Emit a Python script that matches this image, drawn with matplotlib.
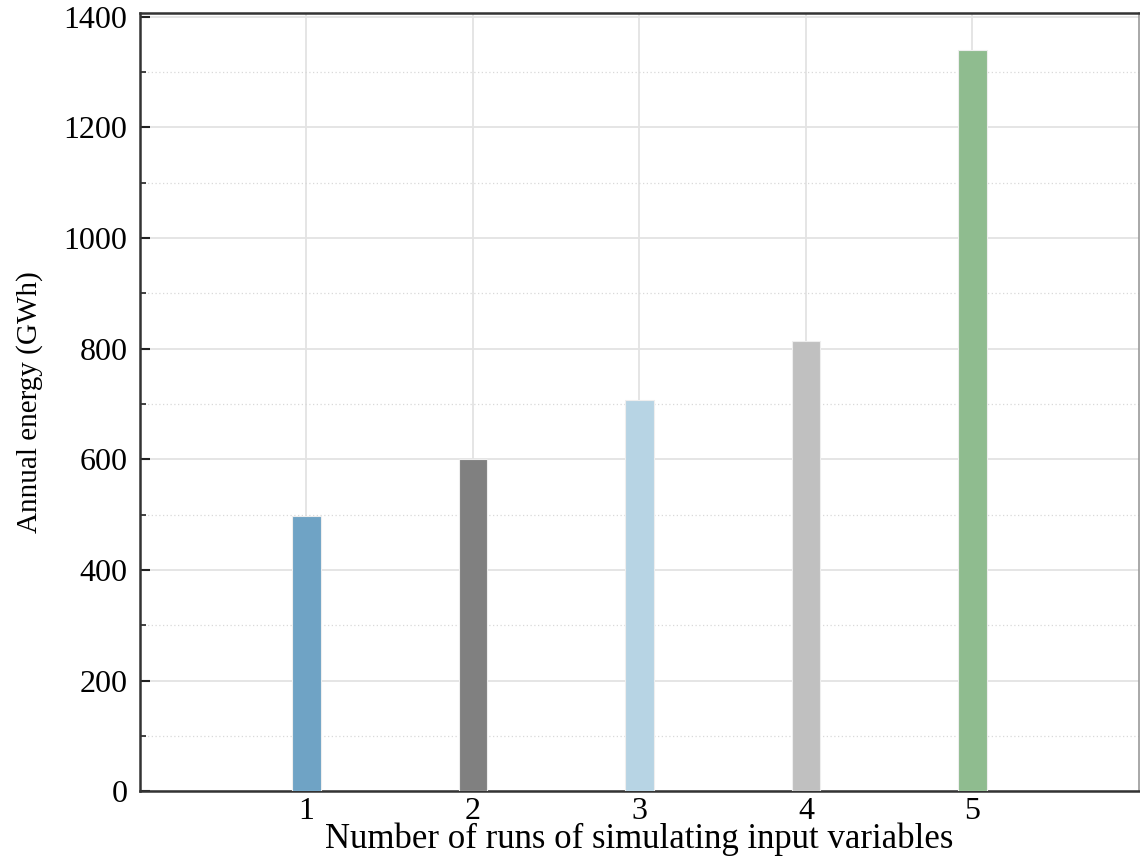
import numpy as np
import matplotlib
matplotlib.use("Agg")
import matplotlib.pyplot as plt
from matplotlib.ticker import MultipleLocator

runs = [1, 2, 3, 4, 5]
energy = [497, 600, 707, 813, 1340]
bar_colors = ["#6fa3c5", "#808080", "#b7d4e4", "#c0c0c0", "#8fbc8f"]

plt.rcParams['font.family'] = ['Liberation Serif', 'DejaVu Serif']

fig = plt.figure(figsize=(11.4, 8.6), dpi=100)
ax = fig.add_axes([0.1228, 0.080, 0.8762, 0.905])

ax.bar(runs, energy, width=0.17, color=bar_colors, edgecolor="#eeeeee",
       linewidth=0.8, zorder=3)

ax.set_xlim(0, 6)
ax.set_ylim(0, 1407)
ax.set_xticks(runs)
ax.yaxis.set_major_locator(MultipleLocator(200))
ax.yaxis.set_minor_locator(MultipleLocator(100))

ax.grid(which="major", color="#e3e3e3", linewidth=1.3, zorder=0)
ax.grid(which="minor", axis="y", color="#d9d9d9", linewidth=0.9,
        linestyle=(0, (1, 2)), zorder=0)

ax.tick_params(axis="both", which="major", direction="in", length=7,
               width=1.5, labelsize=23, colors="#222222",
               labelcolor="black")
ax.tick_params(axis="y", which="major", pad=9)
ax.tick_params(axis="x", which="major", pad=4)
ax.tick_params(axis="y", which="minor", direction="in", length=4,
               width=1.2, colors="#222222")
ax.tick_params(axis="x", which="minor", bottom=False)
ax.tick_params(top=False, right=False)

for side in ["left", "bottom", "top"]:
    ax.spines[side].set_linewidth(1.8)
    ax.spines[side].set_color("#333333")
ax.spines["right"].set_linewidth(1.2)
ax.spines["right"].set_color("#999999")

ax.set_xlabel("Number of runs of simulating input variables", fontsize=25,
              labelpad=-2)
ax.set_ylabel("Annual energy (GWh)", fontsize=21, labelpad=15)

fig.savefig("out.png", dpi=100)
